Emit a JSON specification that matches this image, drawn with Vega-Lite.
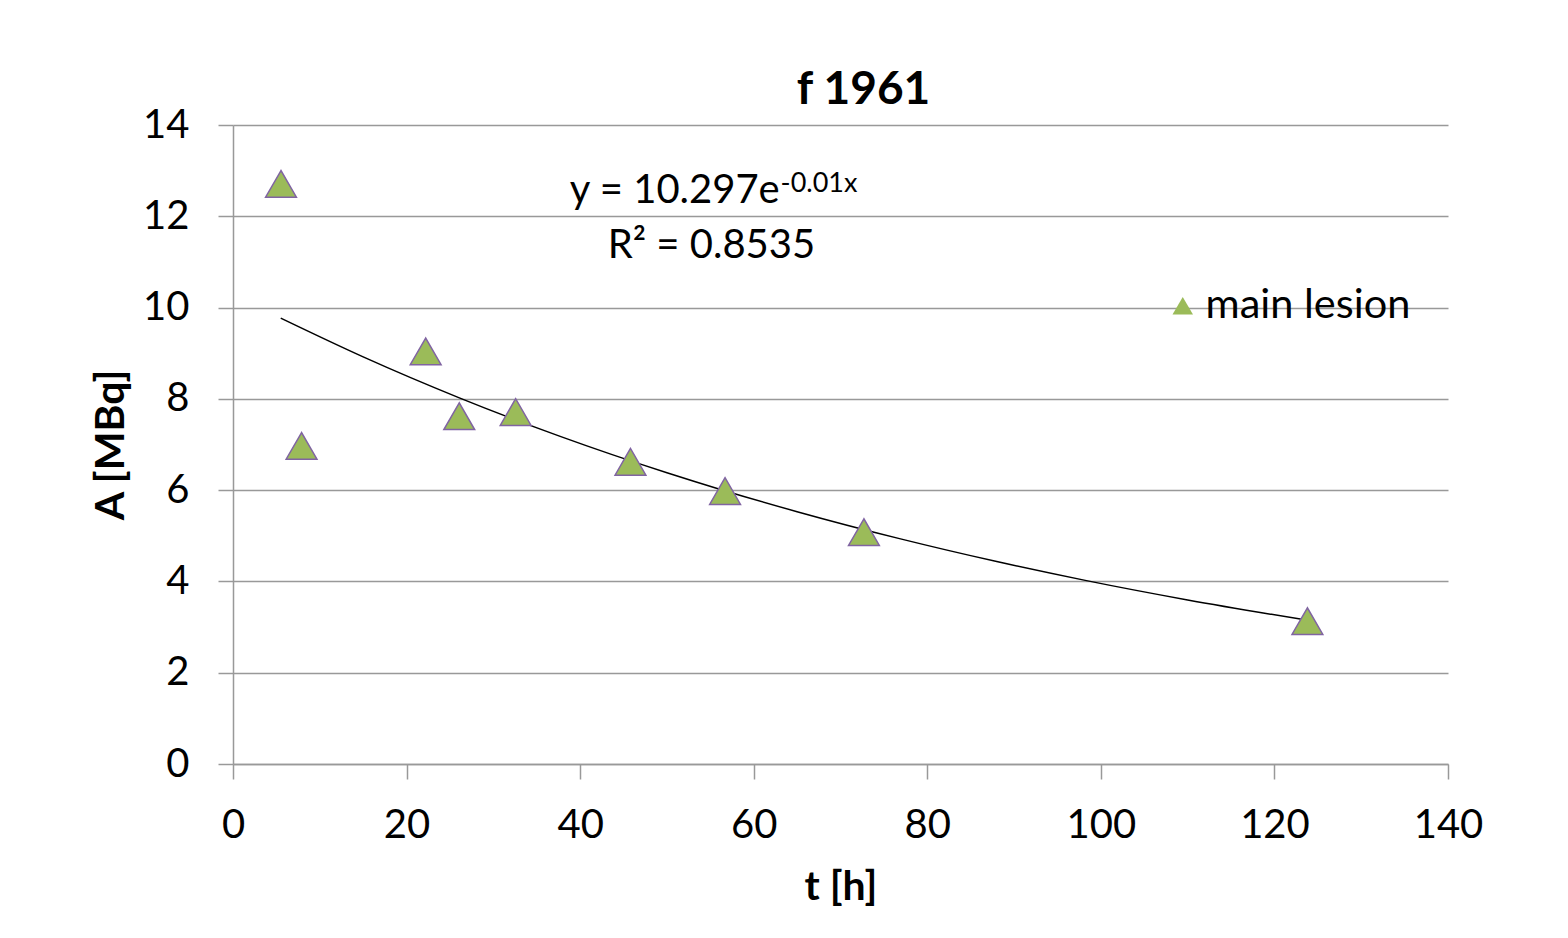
{
  "$schema": "https://vega.github.io/schema/vega-lite/v6.json",
  "autosize": {"type": "none"},
  "padding": {"left": 233, "top": 125, "right": 120, "bottom": 174},
  "width": 1215,
  "height": 639,
  "background": "white",
  "config": {
    "font": "Lato",
    "view": {"stroke": null},
    "axis": {
      "labelFont": "Lato", "labelFontSize": 40, "labelColor": "#000",
      "titleFont": "Lato", "titleFontSize": 41, "titleFontWeight": "bold", "titleColor": "#000",
      "domainColor": "#999", "domainWidth": 1.5, "tickColor": "#999", "tickWidth": 1.5,
      "gridColor": "#999", "gridWidth": 1.5, "tickSize": 15, "labelFlush": false, "labelOverlap": false
    }
  },
  "title": {"text": "f 1961", "font": "Lato", "fontSize": 46, "fontWeight": "bold", "color": "#000", "anchor": "middle", "offset": -9, "dx": 23},
  "layer": [
    {
      "data": {"values": [
        {"t": 5.5, "A": 9.769}, {"t": 15, "A": 8.92}, {"t": 26.15, "A": 8.017},
        {"t": 37.7, "A": 7.178}, {"t": 50, "A": 6.381}, {"t": 56.45, "A": 5.999},
        {"t": 65, "A": 5.528}, {"t": 76.8, "A": 4.938}, {"t": 88, "A": 4.436},
        {"t": 98.2, "A": 4.023}, {"t": 110, "A": 3.594}, {"t": 123.5, "A": 3.158}
      ]},
      "mark": {"type": "line", "color": "#000", "strokeWidth": 1.5, "interpolate": "monotone"},
      "encoding": {
        "x": {"field": "t", "type": "quantitative", "scale": {"domain": [0, 140]},
          "axis": {"title": "t [h]", "values": [0, 20, 40, 60, 80, 100, 120, 140], "grid": false, "labelPadding": 26, "titlePadding": 22}},
        "y": {"field": "A", "type": "quantitative", "scale": {"domain": [0, 14]},
          "axis": {"title": "A [MBq]", "values": [0, 2, 4, 6, 8, 10, 12, 14], "grid": true, "labelPadding": 29, "titlePadding": 10}}
      }
    },
    {
      "data": {"values": [
        {"t": 5.53, "A": 12.71, "series": "main lesion"},
        {"t": 7.9, "A": 6.97, "series": "main lesion"},
        {"t": 22.2, "A": 9.04, "series": "main lesion"},
        {"t": 26.07, "A": 7.62, "series": "main lesion"},
        {"t": 32.57, "A": 7.71, "series": "main lesion"},
        {"t": 45.8, "A": 6.62, "series": "main lesion"},
        {"t": 56.7, "A": 5.98, "series": "main lesion"},
        {"t": 72.7, "A": 5.08, "series": "main lesion"},
        {"t": 123.8, "A": 3.13, "series": "main lesion"}
      ]},
      "mark": {"type": "point", "shape": "triangle-up", "filled": true, "size": 950, "opacity": 1, "stroke": "#8064A2", "strokeWidth": 1.5},
      "encoding": {
        "x": {"field": "t", "type": "quantitative"},
        "y": {"field": "A", "type": "quantitative"},
        "color": {"field": "series", "type": "nominal", "scale": {"range": ["#9BBB59"]},
          "legend": {"title": null, "orient": "none", "legendX": 929, "legendY": 160,
            "symbolType": "triangle-up", "symbolSize": 420, "symbolStrokeWidth": 0, "symbolFillColor": "#9BBB59",
            "labelFont": "Lato", "labelFontSize": 41.5, "labelColor": "#000", "labelOffset": 2, "labelLimit": 400}}
      }
    },
    {
      "data": {"values": [{"label": "y = 10.297e"}]},
      "mark": {"type": "text", "align": "right", "baseline": "alphabetic", "fontSize": 40, "font": "Lato", "color": "#000"},
      "encoding": {"x": {"datum": 63.0}, "y": {"datum": 12.29}, "text": {"field": "label"}}
    },
    {
      "data": {"values": [{"label": "-0.01x"}]},
      "mark": {"type": "text", "align": "left", "baseline": "alphabetic", "fontSize": 27, "font": "Lato", "color": "#000"},
      "encoding": {"x": {"datum": 63.1}, "y": {"datum": 12.53}, "text": {"field": "label"}}
    },
    {
      "data": {"values": [{"label": "R² = 0.8535"}]},
      "mark": {"type": "text", "align": "center", "baseline": "alphabetic", "fontSize": 40, "font": "Lato", "color": "#000"},
      "encoding": {"x": {"datum": 55.13}, "y": {"datum": 11.09}, "text": {"field": "label"}}
    }
  ]
}
